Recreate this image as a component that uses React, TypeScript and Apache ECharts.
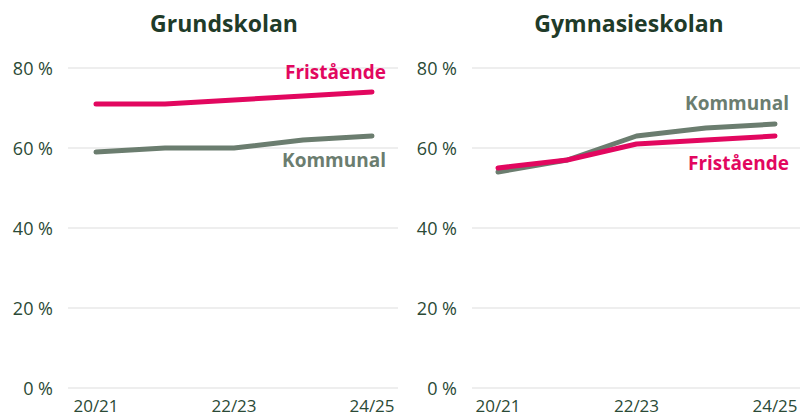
import React, { useEffect, useRef } from "react";
import * as echarts from "echarts";

const categories = ["20/21", "21/22", "22/23", "23/24", "24/25"];
const grundFristaende = [71, 71, 72, 73, 74];
const grundKommunal = [59, 60, 60, 62, 63];
const gymFristaende = [55, 57, 61, 62, 63];
const gymKommunal = [54, 57, 63, 65, 66];
const panelTitles = ["Grundskolan", "Gymnasieskolan"];
const seriesNames = ["Fristående", "Kommunal"];

const PINK = "#e2075f";
const GREY = "#6b7d6f";
const DARK = "#1f3b29";
const LABEL = "#2b4a36";
const FONT = "'Open Sans', 'Noto Sans', sans-serif";

export default function App() {
  const ref = useRef<HTMLDivElement>(null);
  useEffect(() => {
    document.body.style.margin = "0";
    if (!ref.current) return;
    const chart = echarts.init(ref.current, null, { renderer: "svg" });

    const bgYAxis = (gridIndex: number) => ({
      type: "value",
      gridIndex,
      min: 0,
      max: 80,
      interval: 20,
      axisLine: { show: false },
      axisTick: { show: false },
      axisLabel: {
        formatter: "{value} %",
        color: LABEL,
        fontSize: 18,
        fontFamily: FONT,
        margin: 15,
      },
      splitLine: { lineStyle: { color: "#e8e8e8", width: 1.5 } },
    });
    const hiddenY = (gridIndex: number) => ({
      type: "value",
      gridIndex,
      min: 0,
      max: 80,
      show: false,
      splitLine: { show: false },
    });
    const bgXAxis = (gridIndex: number) => ({
      type: "category",
      gridIndex,
      data: categories,
      show: false,
    });
    const dataXAxis = (gridIndex: number) => ({
      type: "category",
      gridIndex,
      data: categories,
      boundaryGap: false,
      axisLine: { show: false },
      axisTick: { show: false },
      splitLine: { show: false },
      axisLabel: {
        interval: 1,
        color: LABEL,
        fontSize: 17,
        lineHeight: 17,
        fontFamily: FONT,
        margin: 9,
      },
    });

    const lineSeries = (
      name: string,
      data: number[],
      axisIndex: number,
      color: string,
      offset: number[]
    ) => ({
      type: "line",
      name,
      data,
      xAxisIndex: axisIndex,
      yAxisIndex: axisIndex,
      symbol: "none",
      z: name === seriesNames[0] ? 3 : 2,
      lineStyle: { color, width: 5, cap: "round", join: "round" },
      endLabel: {
        show: true,
        formatter: "{a}",
        color,
        fontWeight: "bold",
        fontSize: 19,
        fontFamily: FONT,
        align: "right",
        verticalAlign: "middle",
        distance: 0,
        offset,
      },
    });

    chart.setOption({
      animation: false,
      grid: [
        { left: 68, width: 330, top: 68, height: 320 },
        { left: 96, width: 276, top: 68, height: 320 },
        { left: 472, width: 328, top: 68, height: 320 },
        { left: 498, width: 277, top: 68, height: 320 },
      ],
      xAxis: [bgXAxis(0), dataXAxis(1), bgXAxis(2), dataXAxis(3)],
      yAxis: [bgYAxis(0), hiddenY(1), bgYAxis(2), hiddenY(3)],
      graphic: [
        {
          type: "text",
          x: 224,
          y: 23,
          style: {
            text: panelTitles[0],
            fill: DARK,
            font: `bold 23px ${FONT}`,
            textAlign: "center",
            textVerticalAlign: "middle",
          },
        },
        {
          type: "text",
          x: 629,
          y: 23,
          style: {
            text: panelTitles[1],
            fill: DARK,
            font: `bold 23px ${FONT}`,
            textAlign: "center",
            textVerticalAlign: "middle",
          },
        },
      ],
      series: [
        lineSeries(seriesNames[1], grundKommunal, 1, GREY, [14, 24]),
        lineSeries(seriesNames[0], grundFristaende, 1, PINK, [14, -20]),
        lineSeries(seriesNames[1], gymKommunal, 3, GREY, [14, -21]),
        lineSeries(seriesNames[0], gymFristaende, 3, PINK, [14, 27]),
      ],
    });
    return () => chart.dispose();
  }, []);
  return <div ref={ref} style={{ width: 804, height: 416 }} />;
}
